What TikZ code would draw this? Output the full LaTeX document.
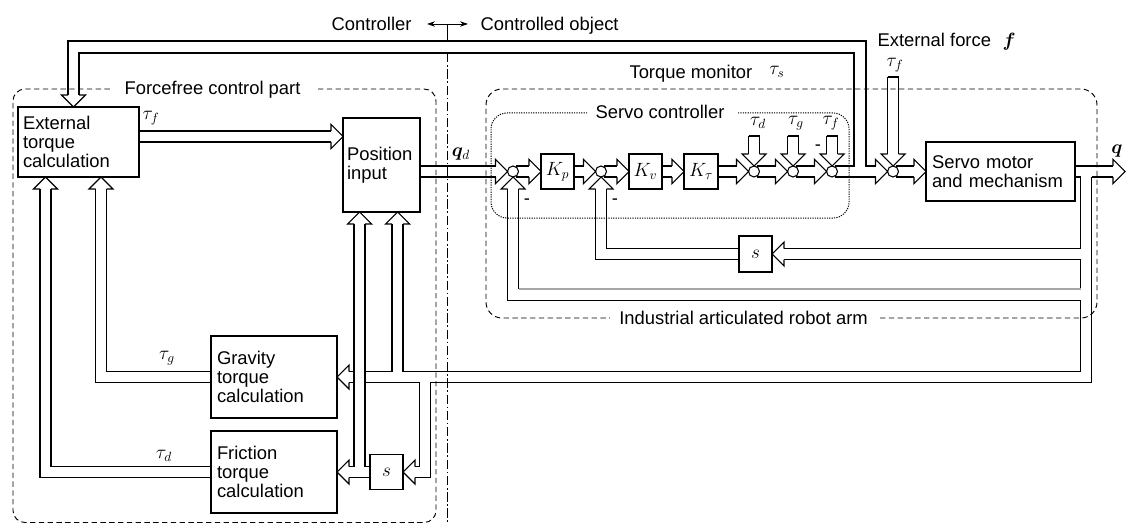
\documentclass[tikz,border=0pt]{standalone}
\usepackage{fontspec}
\setmainfont{Liberation Sans}
\usepackage{bm}
\usetikzlibrary{calc,arrows.meta}
\tikzset{
  hh/.pic={\draw[line join=miter] (-12,5.5) -- (-12,12) -- (0,0) -- (-12,-12) -- (-12,-5.5);},
  bx/.style={draw, inner sep=0pt, outer sep=0pt, font=\fontsize{13.8}{14.2}\selectfont},
  tbx/.style={bx, align=left},
  mbx/.style={bx, minimum width=24.75pt, minimum height=26.25pt, font=\fontsize{14}{14}\selectfont},
  jn/.style={draw, circle, minimum size=8.25pt, inner sep=0pt, outer sep=0pt},
  lbl/.style={inner sep=0pt, font=\fontsize{13.8}{14.2}\selectfont},
  ml/.style={inner sep=0pt, font=\fontsize{14}{14}\selectfont},
  frame/.style={dash pattern=on 4pt off 2.6pt, line width=0.72pt},
  dotbox/.style={dash pattern=on 0.9pt off 0.9pt, line width=0.75pt},
  dashdot/.style={dash pattern=on 7pt off 2pt on 1.2pt off 2pt, line width=0.7pt},
  grayline/.style={draw=black!35},
}
% horizontal double-line arrow: from x of #1 to tip #2 (pointing right)
\newcommand\harr[2]{%
  \draw ($(#1 |- #2)+(0,-5.5)$) -- ($(#2)+(-12,-5.5)$)
        ($(#1 |- #2)+(0,5.5)$) -- ($(#2)+(-12,5.5)$);
  \pic at (#2) {hh};}
% vertical double-line arrow with closed top: from y of #1 to tip #2 (pointing down)
\newcommand\tarr[2]{%
  \draw ($(#2 |- #1)+(-5.5,0)$) -- ($(#2 |- #1)+(5.5,0)$);
  \draw ($(#2 |- #1)+(-5.5,0)$) -- ($(#2)+(-5.5,-12)$)
        ($(#2 |- #1)+(5.5,0)$) -- ($(#2)+(5.5,-12)$);
  \pic[rotate=-90] at (#2) {hh};}
\begin{document}
\begin{tikzpicture}[x=0.75pt,y=-0.75pt,line width=0.8pt,line join=miter]
\useasboundingbox (0,0) rectangle (1127,524);

% ---------- top labels ----------
\node[lbl,anchor=base east] (ctl) at (412,30.7) {Controller};
\node[lbl,anchor=base west] (cob) at (480,30.7) {Controlled object};
\coordinate (al) at (427,24);
\coordinate (ar) at (468,24);
\coordinate (sep) at (447,24);
\coordinate (septick) at (447,41);
\coordinate (sepdd) at (447,53);
\coordinate (sepend) at (447,524);
\draw[line width=0.6pt,{Stealth[length=6pt,width=4pt]}-{Stealth[length=6pt,width=4pt]}] (al) -- (ar);
\draw[line width=0.6pt] (sep) -- (septick);
\draw[dashdot] (sepdd) -- (sepend);

\node[lbl,anchor=base west] (ef) at (877,47) {External force};
\node[ml] (fvec) at (1009,42) {$\bm{f}$};
\node[lbl,anchor=base west] (tm) at (629,78.5) {Torque monitor};
\node[ml] (taus) at (777,72) {$\tau_s$};

% ---------- dashed frames ----------
\node[lbl,anchor=base] (ffl) at (212.5,95) {Forcefree control part};
\draw[frame, rounded corners=9pt] (318,89) -- (436,89) -- (436,522.5) -- (13,522.5) -- (13,89) -- (112,89);
\node[lbl,anchor=base] (ral) at (743.5,324) {Industrial articulated robot arm};
\draw[frame, rounded corners=12pt] (880,318) -- (1097,318) -- (1097,89) -- (486,89) -- (486,318) -- (610,318);
\node[lbl,anchor=base] (scl) at (660,119) {Servo controller};
\draw[dotbox, rounded corners=12pt] (738,113) -- (849,113) -- (849,218) -- (491,218) -- (491,113) -- (588,113);

% ---------- blocks ----------
\node[tbx, text width=83.25pt, inner xsep=3.75pt, minimum height=52.5pt] (ext) at (78.5,142) {External\\torque\\calculation};
\node[tbx, text width=51.75pt, inner xsep=3pt, minimum height=70.5pt] (pos) at (381.5,165) {Position\\input};
\node[tbx, text width=85.5pt, inner xsep=4.5pt, minimum height=61.5pt] (grav) at (274,377) {Gravity\\torque\\calculation};
\node[tbx, text width=85.5pt, inner xsep=4.5pt, minimum height=61.5pt] (fric) at (274,472) {Friction\\torque\\calculation};
\node[tbx, text width=102.75pt, inner xsep=4.5pt, minimum height=44.25pt] (motor) at (1000.5,171.5) {Servo motor\\and mechanism};
\node[mbx] (kp) at (557.5,171.5) {$K_p$};
\node[mbx] (kv) at (645.5,171.5) {$K_v$};
\node[mbx, minimum width=25.5pt] (ktau) at (701,171.5) {$K_\tau$};
\node[mbx, minimum height=27pt] (ss) at (755.5,254) {$s$};
\node[mbx] (sfb) at (386.5,472) {$s$};

% junctions
\node[jn] (j1) at (513,171.5) {};
\node[jn] (j2) at (601,171.5) {};
\node[jn] (j3) at (754,171.5) {};
\node[jn] (j4) at (793,171.5) {};
\node[jn] (j5) at (832,171.5) {};
\node[jn] (j6) at (893,171.5) {};
\foreach \j in {1,...,6} {\coordinate (j\j o) at ($(j\j)+(3,0)$);}

% ---------- forward chain ----------
\harr{pos.east}{j1.west}
\harr{j1o}{kp.west}
\harr{kp.east}{j2.west}
\harr{j2o}{kv.west}
\harr{kv.east}{ktau.west}
\harr{ktau.east}{j3.west}
\harr{j3o}{j4.west}
\harr{j4o}{j5.west}
\harr{j6o}{motor.west}

% disturbance inputs
\coordinate (tin) at (0,136);
\tarr{tin}{j3.north}
\tarr{tin}{j4.north}
\tarr{tin}{j5.north}
\coordinate (tfin) at (0,77);
\tarr{tfin}{j6.north}

% j5 -> j6 with branch to external torque calculation
\draw (j5o |- 0,166) -- (854,166) -- (854,53) -- (79,53) -- (79,95);
\draw (876,166) -- (866,166) -- (866,41) -- (68,41) -- (68,95);
\draw (j5o |- 0,177) -- (876,177);
\pic at (j6.west) {hh};
\pic[rotate=-90] at (ext.north -| 73.5,0) {hh};

% output q and its branches
\coordinate (qout) at (1125,171.5);
\draw (motor.east |- 0,166) -- (1113,166);
\draw (1091.5,177) -- (1113,177);
\pic at (qout) {hh};
\draw (motor.east |- 0,177) -- (1080.5,177) -- (1080.5,248.5) -- (784,248.5);
\pic[rotate=180] at (ss.east) {hh};
\draw (784,259.5) -- (1080.5,259.5) -- (1080.5,289);
\draw[grayline] (1080.5,289) -- (518.5,289);
\draw (518.5,289) -- (518.5,188.5);
\draw (507.5,188.5) -- (507.5,300.5) -- (1080.5,300.5) -- (1080.5,371.5) -- (403,371.5) -- (403,224);
\pic[rotate=90] at (j1.south) {hh};
\draw (1091.5,177) -- (1091.5,382.5) -- (430.5,382.5) -- (430.5,477.5) -- (415,477.5);

% velocity loop of servo
\draw (ss.west |- 0,248.5) -- (606.5,248.5) -- (606.5,188.5);
\draw (ss.west |- 0,259.5) -- (595.5,259.5) -- (595.5,188.5);
\pic[rotate=90] at (j2.south) {hh};

% position input right arrow (q)
\pic[rotate=90] at (pos.south -| 397.5,0) {hh};
\draw (392,224) -- (392,371.5) -- (365,371.5);
\draw (365,382.5) -- (419.5,382.5) -- (419.5,466.5) -- (415,466.5);
\pic[rotate=180] at (sfb.east) {hh};

% velocity branch: s -> position input and friction
\pic[rotate=90] at (pos.south -| 359.5,0) {hh};
\draw (354,224) -- (354,466.5) -- (349,466.5);
\draw (365,224) -- (365,466.5) -- (sfb.west |- 0,466.5);
\draw (sfb.west |- 0,477.5) -- (349,477.5);
\pic[rotate=180] at (fric.east) {hh};

% gravity input
\pic[rotate=180] at (grav.east) {hh};
\draw (349,371.5) -- (354,371.5) (349,382.5) -- (354,382.5);

% gravity and friction outputs to external torque calculation
\draw (grav.west |- 0,371.5) -- (106.5,371.5) -- (106.5,189);
\draw (grav.west |- 0,382.5) -- (95.5,382.5) -- (95.5,189);
\pic[rotate=90] at (ext.south -| 101,0) {hh};
\draw (fric.west |- 0,466.5) -- (51,466.5) -- (51,189);
\draw (fric.west |- 0,477.5) -- (40,477.5) -- (40,189);
\pic[rotate=90] at (ext.south -| 45.5,0) {hh};

% external torque -> position input
\coordinate (ep) at (pos.west |- 0,136.5);
\harr{ext.east}{ep}

% ---------- math labels ----------
\node[ml] (ltf1) at (151,118) {$\tau_f$};
\node[ml] (lqd) at (461,154) {$\bm{q}_d$};
\node[ml] (ltg1) at (167,358) {$\tau_g$};
\node[ml] (ltd1) at (164,456) {$\tau_d$};
\node[ml] (ltd2) at (758,123) {$\tau_d$};
\node[ml] (ltg2) at (796,123) {$\tau_g$};
\node[ml] (ltf2) at (831,123) {$\tau_f$};
\node[ml] (ltf3) at (895,65) {$\tau_f$};
\node[ml] (lq) at (1117,151) {$\bm{q}$};
\node[lbl] (m1) at (527,202) {-};
\node[lbl] (m2) at (615,202) {-};
\node[lbl] (m3) at (818,148) {-};
\end{tikzpicture}
\end{document}
